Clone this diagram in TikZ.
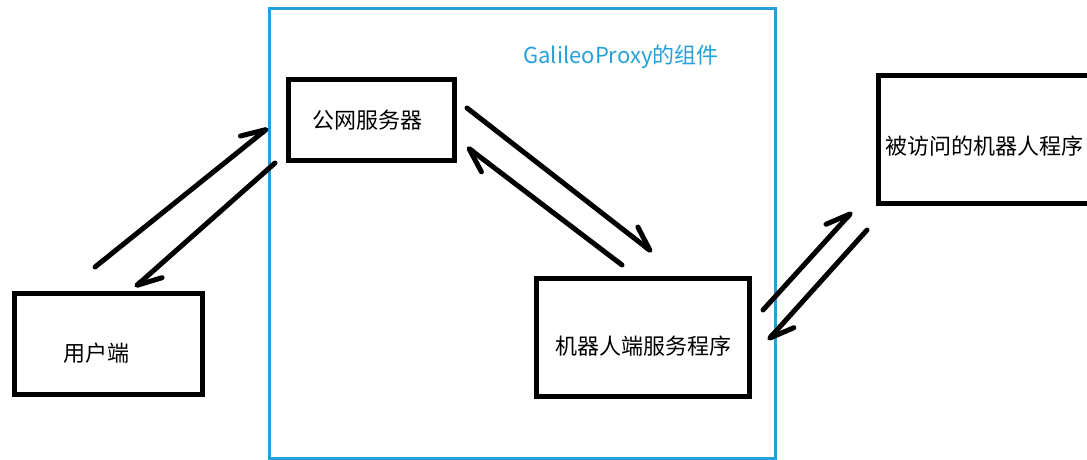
\documentclass[tikz,border=0pt]{standalone}
\usepackage{fontspec}
\setmainfont{Noto Sans CJK SC}
\usetikzlibrary{arrows.meta}
\definecolor{proxyblue}{RGB}{38,160,218}

\begin{document}
\begin{tikzpicture}[x = 1pt, y = -1pt,
  box/.style = {draw, line width = 5pt, font = \fontsize{22}{26}\selectfont},
  harp/.style = {line width = 5pt, line cap = round, -{Straight Barb[left, round, length = 24pt, width = 22pt]}}]
\useasboundingbox (0,0) rectangle (1087,459);
\draw [proxyblue, line width = 3pt] (269,8) rectangle (775,458);
\node [proxyblue, font = \fontsize{22}{26}\selectfont] (title) at (621,57) {GalileoProxy的组件};
\node [box, minimum width = 166pt, minimum height = 81pt] (server) at (371.5,120) {\hspace*{-9pt}公网服务器};
\node [box, minimum width = 188pt, minimum height = 101pt, text height = 39.8pt, text depth = 5pt] (user) at (108.5,344) {\hspace*{-24pt}用户端};
\node [box, minimum width = 213pt, minimum height = 118pt, text height = 38.8pt, text depth = 5pt] (robot) at (643,337.5) {机器人端服务程序};
\node [box, minimum width = 211pt, minimum height = 128pt, text height = 34.8pt, text depth = 5pt] (target) at (984,139.5) {被访问的机器人程序};
\draw [harp] ([shift = {(-13.5,-24)}]user.north) -- ([shift = {(-18,8)}]server.west);
\draw [harp] ([shift = {(-11,0)}]server.south west) -- ([shift = {(26.5,-4)}]user.north);
\draw [harp] ([shift = {(10,-12)}]server.east) -- ([shift = {(9,-24)}]robot.north);
\draw [harp] ([shift = {(-21,-11)}]robot.north) -- ([shift = {(10,27)}]server.east);
\draw [harp] ([shift = {(11,-27.5)}]robot.east) -- ([shift = {(-24,6)}]target.south west);
\draw [harp] ([shift = {(-9,24)}]target.south west) -- ([shift = {(16,2.5)}]robot.east);
\end{tikzpicture}
\end{document}
